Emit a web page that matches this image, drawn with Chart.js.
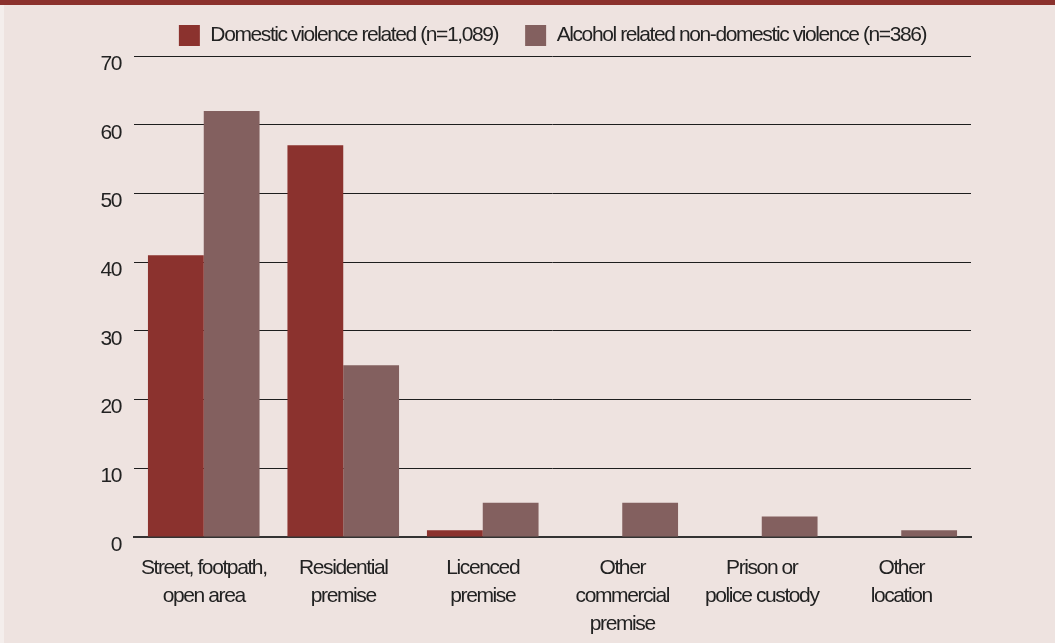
<!DOCTYPE html>
<html>
<head>
<meta charset="utf-8">
<script src="https://cdn.jsdelivr.net/npm/chart.js"></script>
<style>
  html, body { margin: 0; padding: 0; }
  body { width: 1055px; height: 643px; background: #eee3e0; position: relative; overflow: hidden; }
  #band { position: absolute; left: 0; top: 0; width: 1055px; height: 5px; background: #8b312d; }
  #edge { position: absolute; left: 0; top: 5px; width: 4px; height: 638px; background: #f4eeec; }
  #wrap { position: absolute; left: 0; top: 0; }
</style>
</head>
<body>
<div id="band"></div>
<div id="edge"></div>
<div id="wrap"><canvas id="bar-chart" width="1055" height="643"></canvas></div>
<script>
/* data */

const categories = [
    ['Street, footpath,', 'open area'],
    ['Residential', 'premise'],
    ['Licenced', 'premise'],
    ['Other', 'commercial', 'premise'],
    ['Prison or', 'police custody'],
    ['Other', 'location']
];
const domesticLabel = 'Domestic violence related (n=1,089)';
const alcoholLabel = 'Alcohol related non-domestic violence (n=386)';
const domesticValues = [41, 57, 1, 0, 0, 0];
const alcoholValues = [62, 25, 5, 5, 3, 1];
const yTicks = [0, 10, 20, 30, 40, 50, 60, 70];


/* bar chart */

const font = "'Liberation Sans', Arial, sans-serif";
const textColor = '#222';

// tighter letters so the sans face reads like a condensed one
const tightText = {
    id: 'tightText',
    beforeUpdate(chart) { chart.ctx.letterSpacing = '-1.4px'; },
    beforeDraw(chart) { chart.ctx.letterSpacing = '-1.4px'; }
};

const ctx = document.getElementById('bar-chart');

new Chart(ctx, {
    type: 'bar',
    data: {
        labels: categories,
        datasets: [{
            label: domesticLabel,
            data: domesticValues,
            backgroundColor: '#8b322e'
        }, {
            label: alcoholLabel,
            data: alcoholValues,
            backgroundColor: '#83605f'
        }]
    },
    plugins: [tightText],
    options: {
        responsive: false,
        animation: false,
        devicePixelRatio: 1,
        categoryPercentage: 0.8,
        barPercentage: 1.0,
        layout: {
            padding: { left: 60, right: 84, top: -2, bottom: 0 }
        },
        plugins: {
            tooltip: { enabled: false },
            legend: {
                position: 'top',
                fullSize: false,
                labels: {
                    boxWidth: 21,
                    boxHeight: 21,
                    padding: 27,
                    color: textColor,
                    font: { family: font, size: 21 }
                }
            }
        },
        scales: {
            x: {
                grid: { display: false },
                border: { display: true, color: '#333', width: 2 },
                ticks: {
                    color: textColor,
                    padding: 9,
                    maxRotation: 0,
                    autoSkip: false,
                    font: { family: font, size: 21, lineHeight: 1.333 }
                },
                afterFit: function(scale) {
                    scale.height = 106;
                }
            },
            y: {
                min: 0,
                max: 70,
                afterBuildTicks: function(axis) {
                    axis.ticks = yTicks.map(v => ({ value: v }));
                },
                grid: { color: '#1e1e1e', lineWidth: 1, drawTicks: false },
                border: { display: false },
                ticks: {
                    color: textColor,
                    padding: 13,
                    labelOffset: 8,
                    font: { family: font, size: 21 }
                },
                afterFit: function(scale) {
                    scale.width = 74;
                }
            }
        }
    }
});
</script>
</body>
</html>
